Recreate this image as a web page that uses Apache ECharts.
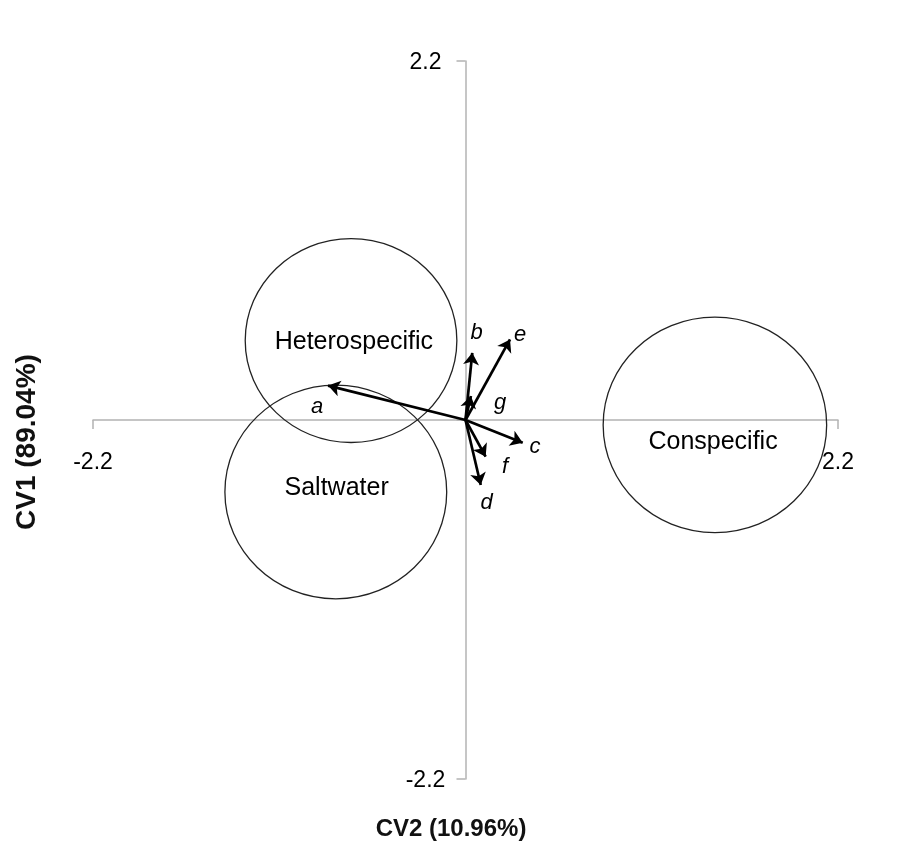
<!DOCTYPE html>
<html>
<head>
<meta charset="utf-8">
<script src="https://cdn.jsdelivr.net/npm/echarts@6/dist/echarts.min.js"></script>
<style>
html,body{margin:0;padding:0;background:#fff;}
#chart{width:902px;height:857px;}
</style>
</head>
<body>
<div id="chart"></div>
<script>
// Group confidence circles (centre, radius in CV units)
const groupNames = ['Heterospecific', 'Saltwater', 'Conspecific'];
const groupCX = [-0.676, -0.766, 1.473];
const groupCY = [0.487, -0.441, -0.030];
const groupR = [0.625, 0.655, 0.660];
const groupLabelX = [-0.659, -0.761, 1.462];
const groupLabelY = [0.480, -0.417, -0.133];

// Variable vectors
const vecNames = ['a', 'b', 'c', 'd', 'e', 'f', 'g'];
const vecX = [-0.812, 0.040, 0.338, 0.090, 0.263, 0.119, 0.032];
const vecY = [0.211, 0.412, -0.139, -0.398, 0.494, -0.225, 0.147];
const vecLabelX = [-0.876, 0.066, 0.411, 0.125, 0.322, 0.233, 0.204];
const vecLabelY = [0.081, 0.531, -0.164, -0.510, 0.521, -0.286, 0.102];

// Axes
const axisMin = -2.2;
const axisMax = 2.2;
const axisStep = 2.2;
const xTickLabels = ['-2.2', '2.2'];
const xTickValues = [-2.2, 2.2];
const yTickLabels = ['-2.2', '2.2'];
const yTickValues = [-2.2, 2.2];
const xTitle = 'CV2 (10.96%)';
const yTitle = 'CV1 (89.04%)';

const FONT = 'Liberation Sans, Arial, Helvetica, sans-serif';
const INK = '#000000';

const chart = echarts.init(document.getElementById('chart'));

const circleData = groupNames.map((n, i) => [groupCX[i], groupCY[i], groupR[i]]);
const groupLabelData = groupNames.map((n, i) => ({ name: n, value: [groupLabelX[i], groupLabelY[i]] }));
const vecLines = vecNames.map((n, i) => ({ coords: [[0, 0], [vecX[i], vecY[i]]] }));
const vecLabelData = vecNames.map((n, i) => ({ name: n, value: [vecLabelX[i], vecLabelY[i]] }));
const xTickData = xTickValues.map((v, i) => ({ name: xTickLabels[i], value: [v, 0] }));
const yTickData = yTickValues.map((v, i) => ({ name: yTickLabels[i], value: [0, v] }));

const axisCommon = {
  type: 'value',
  min: axisMin,
  max: axisMax,
  interval: axisStep,
  splitLine: { show: false },
  axisLabel: { show: false },
  axisLine: { onZero: true, lineStyle: { color: '#b3b3b3', width: 1.5 } },
  axisTick: { show: true, length: 9, lineStyle: { color: '#b3b3b3', width: 1.5 } },
};

const labelBase = { show: true, position: 'inside', formatter: '{b}', color: INK, opacity: 1, fontFamily: FONT, textBorderWidth: 0 };

chart.setOption({
  animation: false,
  backgroundColor: '#ffffff',
  grid: { left: 93, right: 64, top: 61, bottom: 78 },
  xAxis: Object.assign({}, axisCommon),
  yAxis: Object.assign({}, axisCommon),
  graphic: [
    {
      type: 'text', left: 'center', top: 817,
      style: { text: xTitle, font: 'bold 24px ' + FONT, fill: '#111' }
    },
    {
      type: 'text', x: 13, y: 530, rotation: Math.PI / 2,
      style: { text: yTitle, font: 'bold 28px ' + FONT, fill: '#111' }
    }
  ],
  series: [
    {
      type: 'custom',
      coordinateSystem: 'cartesian2d',
      clip: false,
      silent: true,
      data: circleData,
      renderItem: function (params, api) {
        const c = api.coord([api.value(0), api.value(1)]);
        const s = api.size([api.value(2), api.value(2)]);
        return {
          type: 'ellipse',
          shape: { cx: c[0], cy: c[1], rx: s[0], ry: s[1] },
          style: { fill: 'none', stroke: '#222', lineWidth: 1.3 }
        };
      }
    },
    {
      type: 'lines',
      coordinateSystem: 'cartesian2d',
      silent: true,
      symbol: ['none', 'arrow'],
      symbolSize: 12,
      lineStyle: { color: '#000', width: 2.7, opacity: 1 },
      data: vecLines,
      z: 5
    },
    {
      type: 'scatter',
      symbolSize: 0,
      silent: true,
      itemStyle: { opacity: 1 },
      data: vecLabelData,
      label: Object.assign({}, labelBase, { fontSize: 22, fontStyle: 'italic' }),
      z: 6
    },
    {
      type: 'scatter',
      symbolSize: 0,
      silent: true,
      itemStyle: { opacity: 1 },
      data: groupLabelData,
      label: Object.assign({}, labelBase, { fontSize: 25 }),
      z: 6
    },
    {
      type: 'scatter',
      symbolSize: 0,
      silent: true,
      clip: false,
      data: xTickData,
      label: Object.assign({}, labelBase, { fontSize: 23, offset: [0, 43] }),
      z: 6
    },
    {
      type: 'scatter',
      symbolSize: 0,
      silent: true,
      clip: false,
      data: yTickData,
      label: Object.assign({}, labelBase, { fontSize: 23, offset: [-40, 2] }),
      z: 6
    }
  ]
});
</script>
</body>
</html>
